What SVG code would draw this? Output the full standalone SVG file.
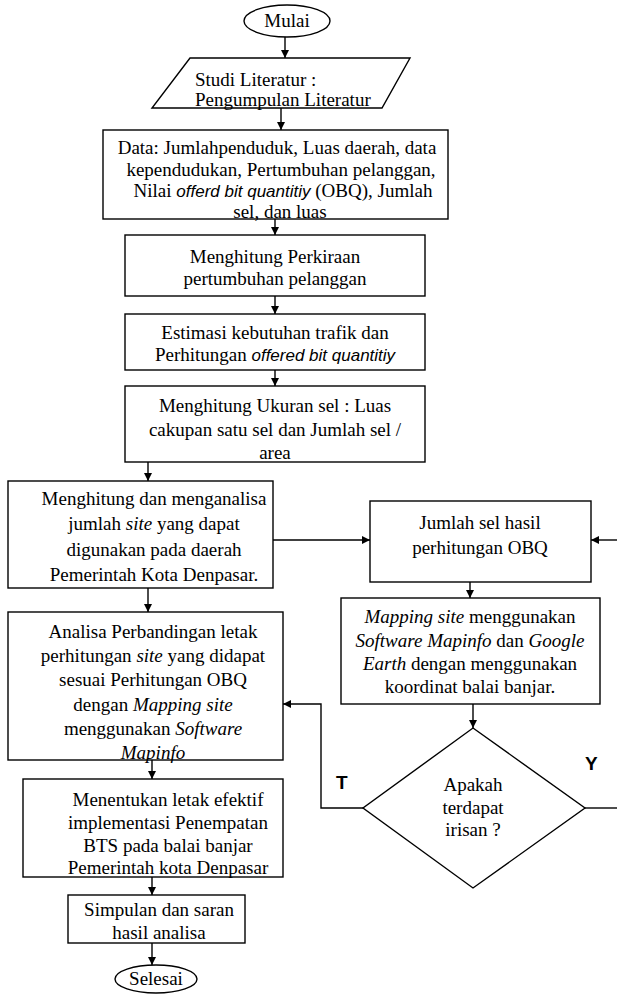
<svg xmlns="http://www.w3.org/2000/svg" width="617" height="994" viewBox="0 0 617 994">
<defs>
<marker id="ah" markerWidth="10" markerHeight="10" refX="9" refY="5" orient="auto" markerUnits="userSpaceOnUse">
<path d="M1,1 L9,5 L1,9 Z" fill="#000"/>
</marker>
<style>
.s{fill:#fff;stroke:#000;stroke-width:1.4}
.t{font-family:"Liberation Serif","Times New Roman",serif;font-size:19px;fill:#000;text-anchor:middle}
.tl{font-family:"Liberation Serif","Times New Roman",serif;font-size:19px;fill:#000}
.i{font-style:italic}
.si{font-family:"Liberation Sans",Arial,sans-serif;font-style:italic;font-size:17px}
.c{fill:none;stroke:#000;stroke-width:1.4}
.b{font-family:"Liberation Sans",Arial,sans-serif;font-weight:bold;font-size:19px;fill:#000}
</style>
</defs>
<rect width="617" height="994" fill="#fff"/>
<g id="connectors">
<line class="c" x1="285" y1="37" x2="285" y2="58" marker-end="url(#ah)"/>
<line class="c" x1="281" y1="108" x2="281" y2="130" marker-end="url(#ah)"/>
<line class="c" x1="275" y1="219" x2="275" y2="235" marker-end="url(#ah)"/>
<line class="c" x1="275" y1="296" x2="275" y2="314" marker-end="url(#ah)"/>
<line class="c" x1="275" y1="370" x2="275" y2="386" marker-end="url(#ah)"/>
<line class="c" x1="148" y1="462" x2="148" y2="481" marker-end="url(#ah)"/>
<line class="c" x1="273" y1="540" x2="370" y2="540" marker-end="url(#ah)"/>
<line class="c" x1="617" y1="540" x2="591" y2="540" marker-end="url(#ah)"/>
<line class="c" x1="470" y1="582" x2="470" y2="598" marker-end="url(#ah)"/>
<line class="c" x1="148" y1="588" x2="148" y2="612" marker-end="url(#ah)"/>
<line class="c" x1="473" y1="704" x2="473" y2="728" marker-end="url(#ah)"/>
<polyline class="c" points="363,808 321,808 321,704 283,704" marker-end="url(#ah)"/>
<line class="c" x1="585" y1="808" x2="617" y2="808"/>
<line class="c" x1="152" y1="760" x2="152" y2="779" marker-end="url(#ah)"/>
<line class="c" x1="152" y1="877" x2="152" y2="895" marker-end="url(#ah)"/>
<line class="c" x1="152" y1="943" x2="152" y2="965" marker-end="url(#ah)"/>
</g>
<g id="mulai">
<ellipse class="s" cx="287" cy="21" rx="43" ry="16"/>
<text class="t" x="287" y="27">Mulai</text>
</g>
<g id="studi">
<polygon class="s" points="190,58 410,58 382,108 152,108"/>
<text class="tl" x="195" y="86">Studi Literatur :</text>
<text class="tl" x="195" y="106">Pengumpulan Literatur</text>
</g>
<g id="data">
<rect class="s" x="103" y="130" width="345" height="89"/>
<text class="t" x="277" y="154">Data: Jumlahpenduduk, Luas daerah, data</text>
<text class="t" x="281" y="176">kependudukan, Pertumbuhan pelanggan,</text>
<text class="t" x="283" y="197">Nilai <tspan class="si">offerd bit quantitiy</tspan> (OBQ), Jumlah</text>
<text class="t" x="280" y="218">sel, dan luas</text>
</g>
<g id="perkiraan">
<rect class="s" x="125" y="235" width="300" height="61"/>
<text class="t" x="275" y="263">Menghitung Perkiraan</text>
<text class="t" x="275" y="285">pertumbuhan pelanggan</text>
</g>
<g id="estimasi">
<rect class="s" x="125" y="314" width="300" height="56"/>
<text class="t" x="275" y="339">Estimasi kebutuhan trafik dan</text>
<text class="t" x="275" y="361">Perhitungan <tspan class="si">offered bit quantitiy</tspan></text>
</g>
<g id="ukuran">
<rect class="s" x="125" y="386" width="300" height="76"/>
<text class="t" x="275" y="412">Menghitung Ukuran sel : Luas</text>
<text class="t" x="275" y="436">cakupan satu sel dan Jumlah sel /</text>
<text class="t" x="275" y="459">area</text>
</g>
<g id="menganalisa">
<rect class="s" x="8" y="481" width="265" height="107"/>
<text class="t" x="154" y="505">Menghitung dan menganalisa</text>
<text class="t" x="154" y="530">jumlah <tspan class="i">site</tspan> yang dapat</text>
<text class="t" x="154" y="556">digunakan pada daerah</text>
<text class="t" x="154" y="581">Pemerintah Kota Denpasar.</text>
</g>
<g id="jumlahsel">
<rect class="s" x="370" y="501" width="221" height="81"/>
<text class="t" x="480" y="529">Jumlah sel hasil</text>
<text class="t" x="480" y="554">perhitungan OBQ</text>
</g>
<g id="mapping">
<rect class="s" x="341" y="598" width="259" height="106"/>
<text class="t" x="470" y="623"><tspan class="i">Mapping site</tspan> menggunakan</text>
<text class="t" x="470" y="647"><tspan class="i">Software Mapinfo</tspan> dan <tspan class="i">Google</tspan></text>
<text class="t" x="470" y="670"><tspan class="i">Earth</tspan> dengan menggunakan</text>
<text class="t" x="470" y="693">koordinat balai banjar.</text>
</g>
<g id="analisa">
<rect class="s" x="8" y="612" width="275" height="148"/>
<text class="t" x="153" y="638">Analisa Perbandingan letak</text>
<text class="t" x="153" y="662">perhitungan <tspan class="i">site</tspan> yang didapat</text>
<text class="t" x="153" y="686">sesuai Perhitungan OBQ</text>
<text class="t" x="153" y="711">dengan <tspan class="i">Mapping site</tspan></text>
<text class="t" x="153" y="735">menggunakan <tspan class="i">Software</tspan></text>
<text class="t" x="153" y="759" font-style="italic">Mapinfo</text>
</g>
<g id="irisan">
<polygon class="s" points="473,728 585,808 473,888 363,808"/>
<text class="t" x="473" y="791">Apakah</text>
<text class="t" x="473" y="814">terdapat</text>
<text class="t" x="473" y="836">irisan ?</text>
</g>
<g id="labels">
<text class="b" x="336" y="789">T</text>
<text class="b" x="585" y="770">Y</text>
</g>
<g id="menentukan">
<rect class="s" x="23" y="779" width="260" height="98"/>
<text class="t" x="168" y="806">Menentukan letak efektif</text>
<text class="t" x="168" y="829">implementasi Penempatan</text>
<text class="t" x="168" y="852">BTS pada balai banjar</text>
<text class="t" x="168" y="874">Pemerintah kota Denpasar</text>
</g>
<g id="simpulan">
<rect class="s" x="68" y="895" width="177" height="48"/>
<text class="t" x="159" y="916">Simpulan dan saran</text>
<text class="t" x="159" y="939">hasil analisa</text>
</g>
<g id="selesai">
<ellipse class="s" cx="156" cy="979" rx="41" ry="14"/>
<text class="t" x="156" y="985">Selesai</text>
</g>
</svg>
